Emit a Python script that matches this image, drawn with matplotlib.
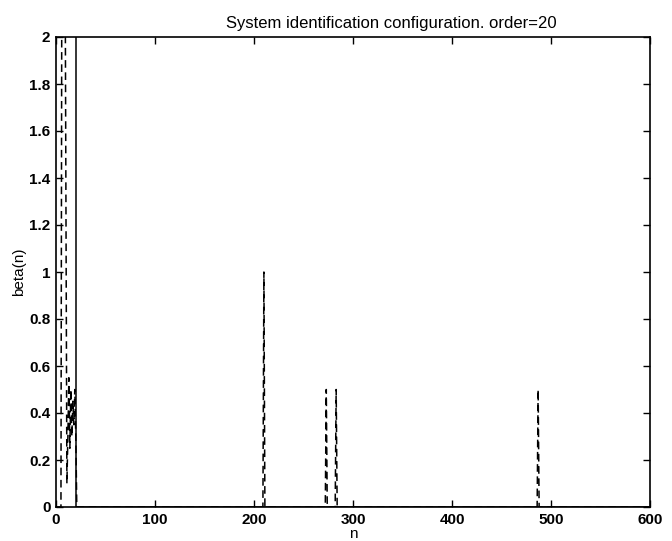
import matplotlib
matplotlib.use("Agg")
import matplotlib.pyplot as plt

# Dashed series (estimate)
n_dashed = [0, 5, 6, 9, 11, 12, 13, 14, 15, 16, 17, 18, 19, 20, 21,
            209, 210, 211, 272, 273, 274, 282, 283, 284, 486, 487, 488, 600]
beta_dashed = [0, 0, 2.6, 2.6, 0.1, 0.3, 0.55, 0.25, 0.5, 0.3, 0.45, 0.35, 0.5, 0.3, 0,
               0, 1.0, 0, 0, 0.5, 0, 0, 0.5, 0, 0, 0.5, 0, 0]

# Solid series
n_solid = [0, 20, 20, 21, 600]
beta_solid = [2.6, 2.6, 0, 0, 0]

xticks = [0, 100, 200, 300, 400, 500, 600]
yticks = [0, 0.2, 0.4, 0.6, 0.8, 1, 1.2, 1.4, 1.6, 1.8, 2]
ytick_labels = ["0", "0.2", "0.4", "0.6", "0.8", "1", "1.2", "1.4", "1.6", "1.8", "2"]

plt.rcParams['font.family'] = ['Liberation Sans', 'DejaVu Sans']

fig = plt.figure(figsize=(6.72, 5.41), dpi=100)
ax = fig.add_axes([56/672, 34/541, 594/672, 470/541])

ax.plot(n_solid, beta_solid, color='black', lw=1.1, solid_capstyle='butt')
ax.plot(n_dashed, beta_dashed, color='black', lw=1.1, linestyle=(0, (5, 3)))

ax.set_xlim(0, 600)
ax.set_ylim(0, 2)
ax.set_xticks(xticks)
ax.set_yticks(yticks)
ax.set_yticklabels(ytick_labels)
ax.tick_params(direction='in', length=5, width=1, top=True, right=True,
               labelsize=11, pad=4)
for lbl in ax.get_xticklabels() + ax.get_yticklabels():
    lbl.set_fontweight('bold')
for s in ax.spines.values():
    s.set_linewidth(1.2)

ax.text(0.565, 1.012, "System identification configuration. order=20",
        transform=ax.transAxes, ha='center', va='bottom', fontsize=12)
ax.set_xlabel("n", fontsize=11, labelpad=0)
ax.set_ylabel("beta(n)", fontsize=11, labelpad=2)

fig.savefig("out.png", dpi=100)
